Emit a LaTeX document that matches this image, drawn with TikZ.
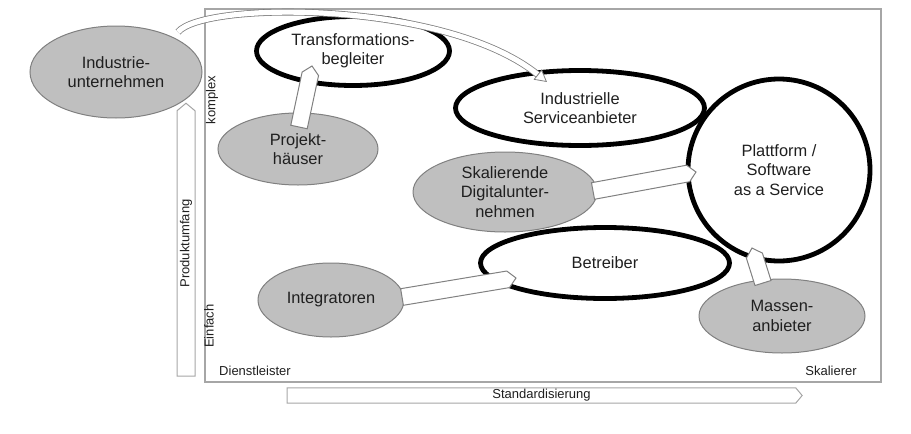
\documentclass[tikz,border=0pt]{standalone}
\usepackage{fontspec}
\setmainfont{Liberation Sans}
\usetikzlibrary{shapes.geometric,shapes.arrows,calc,arrows.meta}
\colorlet{fillgray}{black!25}
\colorlet{rimgray}{black!50}
\colorlet{framegray}{black!35}
\colorlet{inkgray}{black!88}
\newcommand{\lblfont}{\fontsize{8.2}{9.7}\selectfont}
\newcommand{\axisfont}{\fontsize{6.5}{7.5}\selectfont}
\tikzset{
  role/.style = {ellipse, draw=rimgray, fill=fillgray, line width=0.5pt,
    inner sep=0pt, align=center, text=inkgray, font=\lblfont},
  model/.style = {ellipse, draw, line width=2.4pt,
    inner sep=0pt, align=center, text=inkgray, font=\lblfont},
  axislbl/.style = {inner sep=0pt, text=inkgray, font=\axisfont},
  axisarr/.style = {single arrow, single arrow head extend=0pt,
    single arrow tip angle=100, draw=framegray, fill=white, line width=0.5pt,
    inner sep=0.5pt, text=inkgray, font=\axisfont},
  blockarr/.style = {draw=rimgray, fill=white, line width=0.5pt,
    to path={let \p1=($(\tikztotarget)-(\tikztostart)$), \n1={atan2(\y1,\x1)} in
      ($(\tikztostart)+({\n1+90}:4.2pt)$)
      -- ($(\tikztotarget)+({\n1+180}:4pt)+({\n1+90}:4.2pt)$)
      -- (\tikztotarget)
      -- ($(\tikztotarget)+({\n1+180}:4pt)+({\n1-90}:4.2pt)$)
      -- ($(\tikztostart)+({\n1-90}:4.2pt)$) -- cycle}},
  bandarr/.style = {draw=rimgray, double=white, double distance=2.6pt,
    line width=0.4pt, -{Triangle[length=6pt, width=6.5pt, fill=white]}}
}

\begin{document}
\begin{tikzpicture}[x=0.5pt, y=-0.5pt]
    \useasboundingbox (0,0) rectangle (911,434);
    \draw[framegray, line width=0.6pt] (205,9) rectangle (881,382);

    \node[axisarr, rotate=90, minimum height=136.5pt, minimum width=9pt] (prodarr) at (186,243.5) {Produktumfang};
    \node[axisarr, minimum height=257.5pt, minimum width=7.5pt] (stdarr) at (541.5,395.5) {Standardisierung};
    \node[axislbl, rotate=90] (komplex) at (212,100) {komplex};
    \node[axislbl, rotate=90] (einfach) at (209,326) {Einfach};
    \node[axislbl] (dienst) at (255,371) {Dienstleister};
    \node[axislbl] (skalierer) at (831,371) {Skalierer};

    \node[role, minimum width=86pt, minimum height=46pt] (indu) at (116,72) {Industrie-\\unternehmen};
    \node[model, minimum width=96.5pt, minimum height=34.5pt] (trans) at (353,51) {Transformations-\\begleiter};
    \node[role, minimum width=80pt, minimum height=36pt] (projh) at (298,149) {Projekt-\\häuser};
    \node[model, minimum width=124.5pt, minimum height=37.5pt] (isa) at (580,108) {Industrielle\\Serviceanbieter};
    \node[model, circle, minimum size=91pt] (plat) at (779,170) {Plattform /\\Software\\as a Service};
    \node[role, minimum width=92pt, minimum height=40pt] (skal) at (505,192) {Skalierende\\Digitalunter-\\nehmen};
    \node[model, minimum width=124.5pt, minimum height=35.5pt] (betr) at (605,263) {Betreiber};
    \node[role, minimum width=73pt, minimum height=37pt] (integ) at (331,300) {Integratoren};
    \node[role, minimum width=83pt, minimum height=37pt] (massen) at (782,316) {Massen-\\anbieter};

    \draw[bandarr] ($(indu.center)+(62,-40)$) .. controls +(26,-31) and +(-102,-82) .. ($(isa.center)+(-33,-26)$);
    \draw[blockarr] ($(projh.center)+(1,-22)$) to ($(trans.center)+(-41,15)$);
    \draw[blockarr] ($(skal.center)+(88,-1)$) to ($(plat.center)+(-83,2)$);
    \draw[blockarr] ($(integ.center)+(71,-3)$) to ($(betr.center)+(-89,15)$);
    \draw[blockarr] ($(massen.center)+(-19,-33)$) to ($(plat.center)+(-27,78)$);
\end{tikzpicture}
\end{document}
